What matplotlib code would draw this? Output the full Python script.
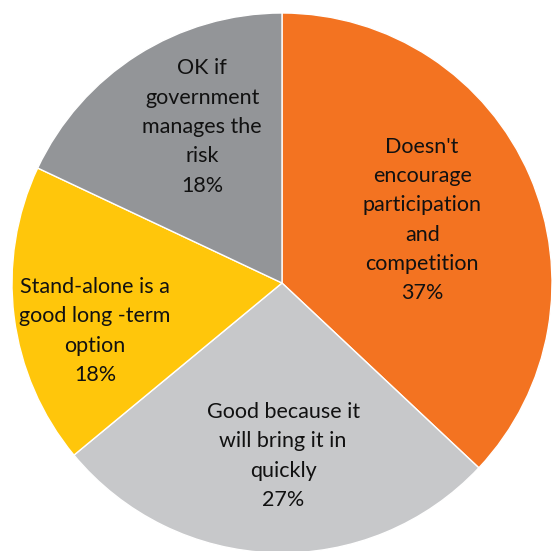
import matplotlib
matplotlib.use("Agg")
import matplotlib.pyplot as plt

# Views on the stand-alone approach
labels = ["Doesn't\nencourage\nparticipation\nand\ncompetition",
          "Good because it\nwill bring it in\nquickly",
          "Stand-alone is a\ngood long -term\noption",
          "OK if\ngovernment\nmanages the\nrisk"]
shares = [37, 27, 18, 18]
colors = ["#F37321", "#C7C8CA", "#FFC60B", "#939598"]
# label anchors, as offsets from the centre in units of the radius
label_off = [(0.519, 0.233), (0.004, -0.641), (-0.693, -0.178), (-0.296, 0.578)]

plt.rcParams['font.family'] = ['Lato', 'DejaVu Sans']

fig = plt.figure(figsize=(5.52, 5.51), dpi=100)
ax = fig.add_axes([0, 0, 1, 1])

cx, cy, r = 282, 268, 270
wedges, _ = ax.pie(shares, colors=colors, startangle=90, counterclock=False,
                   center=(cx, cy), radius=r,
                   wedgeprops=dict(edgecolor='white', linewidth=1))

for lab, val, (dx, dy) in zip(labels, shares, label_off):
    ax.text(cx + dx * r, cy + dy * r, lab + "\n" + str(val) + "%",
            ha='center', va='center',
            fontsize=15.5, linespacing=1.58, color='#111111')

# pie resets the limits, so set them afterwards
ax.set_xlim(0, 552)
ax.set_ylim(0, 551)
ax.set_aspect('equal')
ax.axis('off')

fig.savefig("out.png", dpi=100)
